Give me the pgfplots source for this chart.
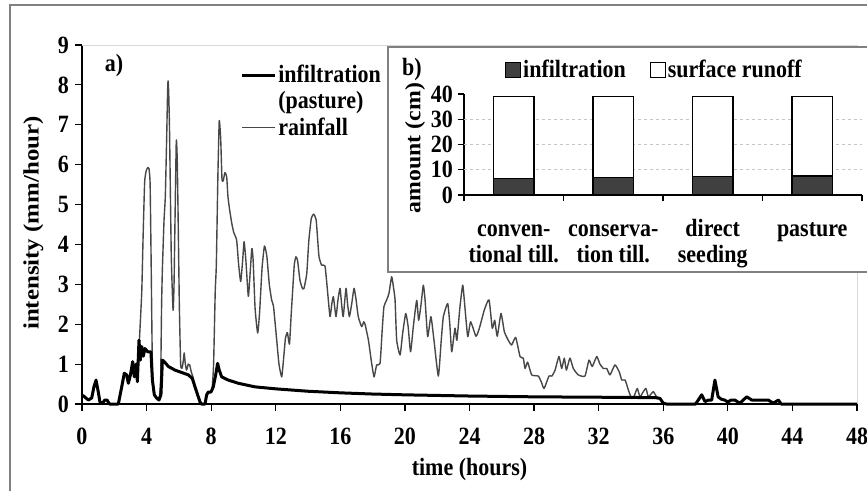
\documentclass[border=0pt]{standalone}
\usepackage{fontspec}
\setmainfont{Liberation Serif}
\usepackage{pgfplots}
\pgfplotsset{compat=1.18}
\definecolor{rain}{gray}{0.28}
\definecolor{infbar}{gray}{0.25}
\definecolor{frame}{gray}{0.5}
\begin{document}
\begin{tikzpicture}[font=\fontsize{22}{23.5}\selectfont\bfseries, tall/.style={yscale=1.13}]
\draw[frame, line width=1.2pt] (10pt,-5pt) rectangle (900pt,-520pt);

% a) intensity curves
\begin{axis}[
  at={(82pt,-404pt)}, anchor=south west,
  width=775pt, height=359pt, scale only axis,
  xmin=0, xmax=48, ymin=0, ymax=9,
  axis lines=left, axis line style={-, line width=1.2pt},
  xtick={0,4,...,48}, ytick={0,1,...,9},
  tick align=outside, major tick length=7pt,
  tick style={black, line width=1.2pt},
  /pgf/number format/assume math mode=true,
  ticklabel style={font=\fontsize{22}{23.5}\selectfont\bfseries, inner sep=2pt, tall},
  xticklabel style={yshift=-13pt},
  yticklabel style={xshift=-4pt},
  xlabel={time (hours)}, ylabel={intensity (mm/hour)},
  xlabel style={at={(axis description cs:0.5,-0.182)}, anchor=center, tall},
  ylabel style={at={(axis description cs:-0.0626,0.504)}, anchor=center, xscale=1.13},
  clip=false,
  legend style={at={(0.204,0.95)}, anchor=north west, draw=none, fill=none,
    inner sep=0pt, row sep=2.5pt, nodes={inner sep=2pt, tall}},
  legend cell align=left,
  legend image code/.code={\draw[#1] (0pt,0pt) -- (33pt,0pt);},
]
\draw[gray!30, line width=1pt] (rel axis cs:0,1) -- (rel axis cs:1,1) -- (rel axis cs:1,0);

\addlegendimage{black, line width=3pt}
\addlegendentry{infiltration}
\addlegendimage{empty legend}
\addlegendentry{(pasture)}
\addlegendimage{rain, line width=1.4pt}
\addlegendentry{rainfall}

% rainfall
\addplot[forget plot, rain, line width=1.4pt, line join=round, smooth, tension=0.3] coordinates {
(3.55,1.55) (3.7,2.8) (3.78,4.13) (3.88,5.56) (3.98,5.85) (4.08,5.93) (4.15,5.9)
(4.22,5.5) (4.29,3.3) (4.34,1.5) (4.38,0.6) (4.45,0.25) (4.62,0.15) (4.77,0.12)
(4.87,0.6) (4.93,2.5) (4.98,3.4) (5.08,4.6) (5.16,5.2) (5.24,6.6) (5.30,7.8)
(5.33,8.1) (5.37,7.8) (5.42,6.9) (5.53,3.7) (5.64,2.35) (5.70,3.0) (5.76,4.6)
(5.84,6.6) (5.90,6.1) (5.96,4.5) (6.03,2.45) (6.11,1.0) (6.2,0.9) (6.28,1.1)
(6.33,1.28) (6.4,1.0) (6.48,0.85) (6.58,1.0) (6.67,0.98) (6.77,0.8) (6.87,0.68)
(7.0,0.43) (7.16,0.23) (7.31,0.05) (7.45,0) (7.62,0) (7.72,0.23) (7.9,0.3)
(8.05,0.35) (8.15,1.0) (8.25,2.8) (8.32,3.5) (8.42,5.8) (8.5,7.1) (8.59,6.65)
(8.67,5.64) (8.75,5.6) (8.85,5.8) (8.96,5.7) (9.04,5.2) (9.15,4.85) (9.29,4.5)
(9.4,4.3) (9.58,4.1) (9.7,3.5) (9.83,3.07) (9.95,3.6) (10.04,4.07) (10.15,3.6)
(10.3,2.7) (10.4,3.2) (10.52,3.9) (10.6,3.6) (10.72,2.4) (10.88,1.78) (11.0,2.3)
(11.15,3.4) (11.3,3.96) (11.45,3.7) (11.6,3.0) (11.75,2.6) (11.86,2.45) (12.06,1.6)
(12.2,1.0) (12.37,0.68) (12.5,1.2) (12.6,1.65) (12.72,1.79) (12.85,1.5) (12.95,2.2)
(13.05,2.86) (13.15,3.5) (13.25,3.69) (13.35,3.6) (13.5,3.1) (13.65,2.9) (13.75,2.9)
(13.92,3.27) (14.05,4.1) (14.2,4.65) (14.35,4.76) (14.5,4.62) (14.6,4.1) (14.68,3.69)
(14.84,3.48) (15.05,3.46) (15.2,2.86) (15.36,2.19) (15.47,2.5) (15.57,2.69) (15.73,2.19)
(15.85,2.6) (15.98,2.9) (16.08,2.5) (16.18,2.19) (16.35,2.9) (16.45,2.5) (16.56,2.19)
(16.7,2.5) (16.85,2.9) (16.98,2.6) (17.11,2.19) (17.32,1.94) (17.45,2.06) (17.53,2.0)
(17.74,1.6) (17.94,1.02) (18.09,0.68) (18.25,0.98) (18.46,1.02) (18.6,1.9) (18.7,2.44)
(18.87,2.61) (19.01,2.77) (19.18,3.19) (19.3,2.9) (19.39,2.61) (19.49,1.6) (19.7,1.23)
(19.86,1.77) (20.05,2.27) (20.2,1.94) (20.35,1.31) (20.52,1.94) (20.73,2.6) (20.85,2.1)
(21.0,2.5) (21.14,2.98) (21.25,2.6) (21.41,1.69) (21.61,2.19) (21.8,1.6) (22.07,0.7)
(22.25,1.6) (22.38,2.19) (22.65,2.52) (22.78,2.0) (22.9,1.31) (23.1,1.9) (23.22,1.6)
(23.4,2.4) (23.58,2.98) (23.7,2.5) (23.89,1.69) (24.07,2.06) (24.4,1.7) (24.61,1.9)
(24.92,2.36) (25.21,2.61) (25.41,1.9) (25.56,2.1) (25.72,1.7) (25.95,2.27) (26.16,1.81)
(26.4,1.6) (26.61,1.48) (26.86,1.67) (27.13,1.19) (27.33,1.15) (27.44,0.89) (27.6,1.05)
(27.85,0.73) (28.26,0.7) (28.45,0.55) (28.62,0.39) (28.92,0.7) (29.1,0.7) (29.3,0.85)
(29.54,1.19) (29.71,0.89) (29.87,1.15) (30.0,0.85) (30.22,1.15) (30.43,0.89) (30.74,0.73)
(31.15,0.7) (31.4,1.1) (31.6,0.94) (31.88,1.19) (32.08,1.0) (32.29,0.89) (32.5,0.89)
(32.7,0.73) (33.01,0.98) (33.28,0.8) (33.43,0.6) (33.64,0.6) (33.84,0.35) (34.04,0.14)
(34.2,0.2) (34.39,0.39) (34.56,0.18) (34.75,0.3) (34.93,0.39) (35.08,0.18) (35.38,0.31)
(35.6,0.17) (35.8,0.15) (36.0,0.0)
};

% infiltration (pasture)
\addplot[forget plot, black, line width=3pt, line join=round] coordinates {
(0,0.22) (0.1,0.2) (0.39,0.1) (0.6,0.15) (0.74,0.43) (0.87,0.6) (1.01,0.3)
(1.11,0.05) (1.25,0.02) (1.42,0.1) (1.55,0.1) (1.7,0) (2.25,0) (2.46,0.43)
(2.62,0.77) (2.77,0.73) (2.87,0.52) (3.0,0.73) (3.14,1.06) (3.24,0.68) (3.35,1.0)
(3.43,0.56) (3.53,1.6) (3.61,1.1) (3.7,1.44) (3.8,1.2) (3.9,1.39) (4.07,1.31)
(4.27,1.31) (4.36,0.6) (4.48,0.23) (4.62,0.15) (4.77,0.1) (4.89,0.23) (4.98,1.1)
(5.1,1.06) (5.35,0.94) (5.76,0.85) (6.17,0.79) (6.59,0.73) (6.83,0.64) (7.0,0.43)
(7.16,0.23) (7.31,0.05) (7.4,0) (7.62,0) (7.72,0.23) (7.82,0.3) (7.99,0.3)
(8.13,0.43) (8.28,0.73) (8.4,1.02) (8.5,0.85) (8.65,0.68) (9.06,0.6) (9.68,0.52)
(10.71,0.43) (12,0.38) (14,0.32) (16,0.28) (18,0.25) (20,0.23) (24,0.2)
(28,0.18) (32,0.17) (35.5,0.16) (35.8,0.14) (36.0,0.02) (36.2,0) (38.0,0)
(38.17,0.1) (38.38,0.23) (38.59,0.06) (38.8,0.1) (39.0,0.1) (39.2,0.6) (39.4,0.18)
(39.6,0.12) (39.8,0.1) (40.0,0.05) (40.2,0.1) (40.43,0.1) (40.74,0.02) (41.17,0.18)
(41.48,0.1) (42.0,0.1) (42.5,0.1) (42.82,0.02) (43.13,0.1) (43.3,0) (48,0)
};
\end{axis}
\node[tall] at (114pt,-66pt) {a)};

% b) inset box
\draw[frame, line width=1.2pt, fill=white] (388pt,-47pt) rectangle (900pt,-272pt);

\begin{axis}[
  at={(464pt,-195pt)}, anchor=south west,
  width=398pt, height=101pt, scale only axis,
  xmin=-0.5, xmax=3.5, ymin=0, ymax=40,
  ybar stacked, bar width=40.7pt,
  axis lines=left, axis line style={-, line width=1.2pt},
  ytick={0,10,...,40},
  xtick={-0.5,0.5,1.5,2.5,3.5}, xticklabels={},
  tick align=outside, major tick length=6pt,
  tick style={black, line width=1.2pt},
  extra x ticks={0,1,2,3},
  extra x tick labels={{\strut conven-\\tional till.},{\strut conserva-\\tion till.},{\strut direct\\seeding},{\strut pasture}},
  extra x tick style={major tick length=0pt,
    xticklabel style={align=center, yshift=-18pt}},
  extra y ticks={10,20,30}, extra y tick labels={},
  extra y tick style={ymajorgrids=true, major tick length=0pt,
    major grid style={gray!45, dash pattern=on 3pt off 3pt, line width=0.8pt}},
  /pgf/number format/assume math mode=true,
  ticklabel style={font=\fontsize{22}{23.5}\selectfont\bfseries, inner sep=2pt, tall},
  yticklabel style={xshift=-3pt},
  ylabel={amount (cm)},
  ylabel style={at={(axis description cs:-0.123,0.465)}, anchor=center, xscale=1.08},
  clip=false,
  legend style={at={(0.103,1.238)}, anchor=west, draw=none, fill=none,
    legend columns=2, inner sep=0pt,
    /tikz/every even column/.append style={column sep=22pt},
    nodes={inner sep=2pt, tall}},
]
\addlegendimage{legend image code/.code={\draw[fill=infbar, draw=black, line width=1pt] (0pt,-7.5pt) rectangle (15pt,7.5pt);}}
\addlegendentry{infiltration}
\addlegendimage{legend image code/.code={\draw[fill=white, draw=black, line width=1pt] (0pt,-7.5pt) rectangle (15pt,7.5pt);}}
\addlegendentry{surface runoff}
\addplot[forget plot, fill=infbar, draw=black, line width=1.3pt] coordinates {(0,6.6) (1,6.8) (2,7.2) (3,7.5)};
\addplot[forget plot, fill=white, draw=black, line width=1.3pt] coordinates {(0,32.4) (1,32.2) (2,31.8) (3,31.5)};
\end{axis}
\node[tall] at (412pt,-70pt) {b)};

\pgfresetboundingbox
\path[use as bounding box] (0pt,0pt) rectangle (867pt,-490pt);
\end{tikzpicture}
\end{document}
